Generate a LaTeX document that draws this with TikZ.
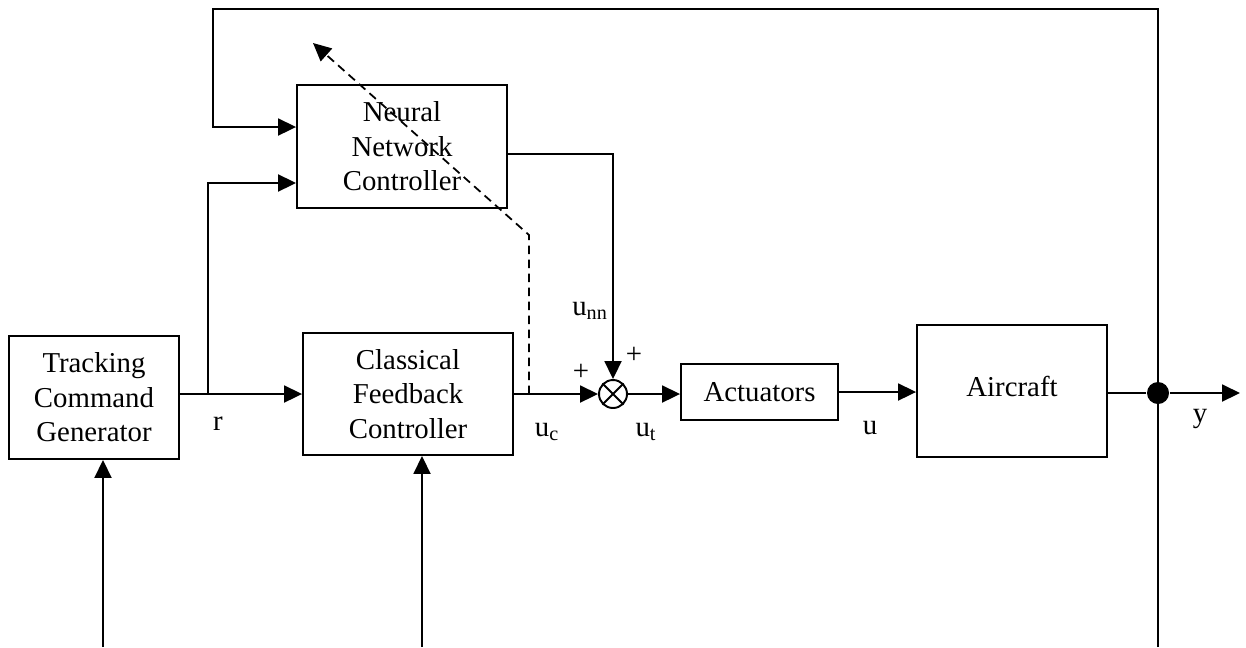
\documentclass[tikz,border=0pt]{standalone}
\usepackage{fontspec}
\setmainfont{Liberation Serif}
\usepackage{tikz}
\usetikzlibrary{arrows.meta}
\usetikzlibrary{calc}
\usetikzlibrary{positioning}

\begin{document}
\begin{tikzpicture}[x=.02cm,y=-.02cm,->,>={Triangle[length=.36cm,width=.34cm]},line width=1.1pt,font=\fontsize{16.4}{19.6}\selectfont]
						\tikzstyle{block}=[draw, rectangle, align=center, inner sep=0pt]
						\tikzstyle{lbl}=[anchor=base, inner sep=0pt]
						\useasboundingbox (0,0) rectangle (1246,647);
						\node[block, minimum width=3.4cm, minimum height=2.46cm] 		(T) at (94,397.5)		{Tracking\\Command\\Generator};
						\node[block, minimum width=4.2cm, minimum height=2.44cm] 		(C) at (408,394)		{Classical\\Feedback\\Controller};
						\node[block, minimum width=4.2cm, minimum height=2.46cm] 		(N) at (402,146.5)		{Neural\\Network\\Controller};
						\node[draw, circle, minimum size=.56cm, inner sep=0pt] 		(S) at (613,394)		{};
						\node[block, minimum width=3.14cm, minimum height=1.12cm] 		(A) at (759.5,392)		{Actuators};
						\node[block, minimum width=3.8cm, minimum height=2.64cm, text depth=.2cm] 	(AC) at (1012,391)	{Aircraft};
						\node[fill, circle, minimum size=.44cm, inner sep=0pt] 		(P) at (1158,393)		{};
						\coordinate (R) at (208,394);
						\coordinate (Y) at (1240,393);
						\coordinate (F1) at (1158,647);
						\coordinate (F2) at (1158,9);
						\coordinate (F3) at (213,9);
						\coordinate (I1) at (103,647);
						\coordinate (I2) at (422,647);
						\coordinate (D0) at (529,394);
						\coordinate (D1) at (529,235);
						\coordinate (D2) at (313,43);
						% summing junction cross
						\draw[-] (S.north west) -- (S.south east) (S.north east) -- (S.south west);
						% labels
						\node[lbl] (lr) at (218,430) {r};
						\node[lbl] (lnn) at (590,315) {u\textsubscript{nn}};
						\node[lbl] (lc) at (547,436) {u\textsubscript{c}};
						\node[lbl] (lt) at (646,436) {u\textsubscript{t}};
						\node[lbl] (lu) at (870,434) {u};
						\node[lbl] (ly) at (1200,422) {y};
						\node (p1) at (634,355) {+};
						\node (p2) at (581,372) {+};
 				  \path
					 (T.east |- C.west) edge[-] (R)
					 (R) edge (C.west)
					 (C.east) edge (S.west)
					 (S.east) edge (A.west |- S)
					 (A.east) edge (AC.west |- A)
					 (AC.east |- P) edge[-] (P)
					 (P) edge (Y)
					 (I1) edge (I1 |- T.south)
					 (I2) edge (I2 |- C.south);
					 \draw (R) |- ([yshift=-.73cm]N.west);
					 \draw ([yshift=-.15cm]N.east) -| (S.north);
					 \draw (F1) -- (F2) -- (F3) |- ([yshift=.39cm]N.west);
					 %\draw (P) -- (F2);
					 \draw[line width=1pt, dash pattern=on .17cm off .11cm] (D0) -- (D1) -- (D2);
				\end{tikzpicture}
\end{document}
